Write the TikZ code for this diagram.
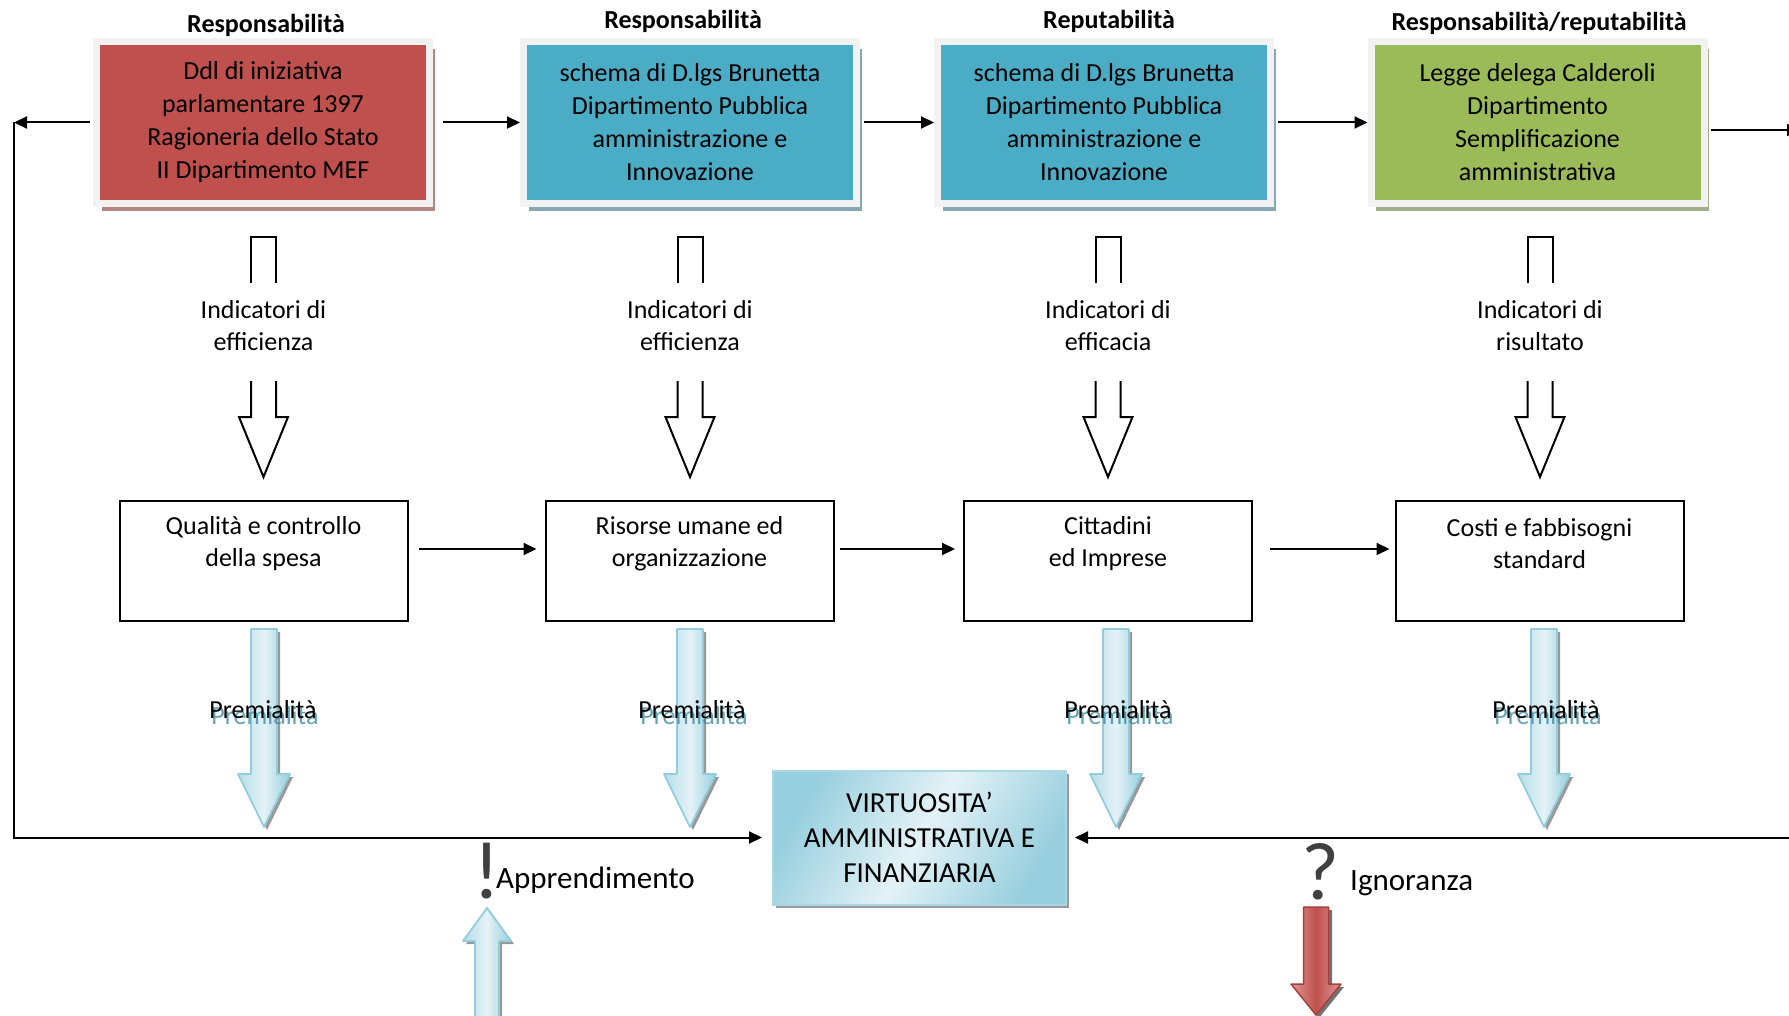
\documentclass[tikz,border=0pt]{standalone}
\usepackage{fontspec}
\setmainfont{Carlito}
\usetikzlibrary{arrows.meta,shadows}
\definecolor{cRed}{HTML}{C0504D}
\definecolor{cBlue}{HTML}{4BACC6}
\definecolor{cGreen}{HTML}{9BBB59}
\definecolor{cFrame}{HTML}{F2F2F2}
\definecolor{pLight}{HTML}{E4F2F7}
\definecolor{pDark}{HTML}{98CFDE}
\definecolor{pLine}{HTML}{93CDDD}
\definecolor{pText}{HTML}{31859C}
\definecolor{rLight}{HTML}{DC9A98}
\definecolor{rLine}{HTML}{A5403D}
\definecolor{qGray}{HTML}{404040}
\tikzset{
 topbox/.style={draw=cFrame, line width=7pt, minimum width=333pt, minimum height=162pt,
   align=center, inner sep=0pt, font=\fontsize{26}{33}\selectfont},
 titletxt/.style={font=\bfseries\fontsize{26}{30}\selectfont, inner sep=0pt},
 lowbox/.style={draw=black, line width=2pt, minimum width=288pt, minimum height=120pt, inner sep=0pt},
 txt/.style={align=center, inner sep=0pt, font=\fontsize{26}{32}\selectfont},
 bigtxt/.style={inner sep=0pt, font=\fontsize{31}{36}\selectfont},
 arr/.style={draw=black, line width=2pt, -{Triangle[length=13pt,width=12pt]}},
 blockarr/.style={draw=black, line width=2pt, line join=miter},
 pshade/.style={left color=pDark!60!pLight, right color=pDark, middle color=pLight, draw=pLine, line width=1.8pt, line join=round},
}
\begin{document}
\begin{tikzpicture}[x=1pt,y=-1pt]
\fill[white] (0,0) rectangle (1789,1016);
\useasboundingbox (0,0) rectangle (1789,1016);

% titles
\node[titletxt] (t1) at (266,25) {Responsabilità};
\node[titletxt] (t2) at (683,21) {Responsabilità};
\node[titletxt] (t3) at (1109,21) {Reputabilità};
\node[titletxt] (t4) at (1539,23) {Responsabilità/reputabilità};

% top boxes
\node[topbox, fill=cRed, drop shadow={shadow xshift=5pt, shadow yshift=-7.5pt, fill=cRed!50!gray!80, opacity=1}] (b1) at (263,122.5)
  {Ddl di iniziativa\\parlamentare 1397\\Ragioneria dello Stato\\II Dipartimento MEF};
\node[topbox, fill=cBlue, drop shadow={shadow xshift=5pt, shadow yshift=-7.5pt, fill=cBlue!45!gray!80, opacity=1}] (b2) at (690,122.5)
  {schema di D.lgs Brunetta\\Dipartimento Pubblica\\amministrazione e\\Innovazione};
\node[topbox, fill=cBlue, drop shadow={shadow xshift=5pt, shadow yshift=-7.5pt, fill=cBlue!45!gray!80, opacity=1}] (b3) at (1104,122.5)
  {schema di D.lgs Brunetta\\Dipartimento Pubblica\\amministrazione e\\Innovazione};
\node[topbox, fill=cGreen, drop shadow={shadow xshift=5pt, shadow yshift=-7.5pt, fill=cGreen!45!gray!80, opacity=1}] (b4) at (1537.5,122.5)
  {Legge delega Calderoli\\Dipartimento\\Semplificazione\\amministrativa};

% top row connectors
\coordinate (lft) at (14,122.5);
\coordinate (rt) at (1800,130);
\draw[arr, shorten <=3.5pt] (b1.west) -- (lft);
\draw[arr, shorten <=9.5pt] (b1.east) -- (b2.west);
\draw[arr, shorten <=3.5pt] (b2.east) -- (b3.west);
\draw[arr, shorten <=3.5pt] (b3.east) -- (b4.west);
\draw[arr, shorten <=3.5pt] (b4.east |- rt) -- (rt);

% indicator block arrows and labels
\foreach \cx/\lb [count=\i] in {263.5/efficienza, 690/efficienza, 1108/efficacia, 1540/risultato}{
  \draw[blockarr] (\cx-12.5,283) -- (\cx-12.5,237) -- (\cx+12.5,237) -- (\cx+12.5,283);
  \node[txt] (ind\i) at (\cx,326) {Indicatori di\\\lb};
  \draw[blockarr] (\cx-12.5,381) -- (\cx-12.5,417) -- (\cx-24.5,417) -- (\cx,477) -- (\cx+24.5,417) -- (\cx+12.5,417) -- (\cx+12.5,381);
}

% lower boxes
\node[lowbox] (l1) at (263.5,561) {};
\node[lowbox] (l2) at (689.5,561) {};
\node[lowbox] (l3) at (1108,561) {};
\node[lowbox] (l4) at (1539.5,561) {};
\node[txt] (l1t) at (263.5,544) {Qualità e controllo\\della spesa};
\node[txt] (l2t) at (689.5,544) {Risorse umane ed\\organizzazione};
\node[txt] (l3t) at (1108,544) {Cittadini\\ed Imprese};
\node[txt] (l4t) at (1539.5,544) {Costi e fabbisogni\\standard};
\draw[arr, shorten <=10pt, shorten >=8pt] ([yshift=12pt]l1.east) -- ([yshift=12pt]l2.west);
\draw[arr, shorten <=5pt, shorten >=8pt] ([yshift=12pt]l2.east) -- ([yshift=12pt]l3.west);
\draw[arr, shorten <=17pt, shorten >=5pt] ([yshift=12pt]l3.east) -- ([yshift=12pt]l4.west);

% premialita arrows
\foreach \ax/\tx [count=\i] in {264/263, 690/692, 1116/1118, 1544/1546}{
  \begin{scope}[shift={(\ax,0)}]
    \fill[black!40] (-10,632) -- (16,632) -- (16,777) -- (29,777) -- (3,830) -- (-23,777) -- (-10,777) -- cycle;
    \shadedraw[pshade] (-13,629) -- (13,629) -- (13,774) -- (26,774) -- (0,827) -- (-26,774) -- (-13,774) -- cycle;
  \end{scope}
  \node[txt, text=pText, opacity=0.75] (pt\i) at (\tx+2,716) {Premialità};
  \node[txt] (pb\i) at (\tx,710) {Premialità};
}

% central box
\node[draw=pLine!80!white, line width=2pt, minimum width=293pt, minimum height=134pt, inner sep=0pt,
  left color=pDark, right color=pDark, middle color=pLight, shading angle=60,
  drop shadow={shadow xshift=3pt, shadow yshift=-3pt, fill=black!40, opacity=1},
  align=center, font=\fontsize{29}{35}\selectfont] (v) at (919.5,837.5)
  {VIRTUOSITA’\\AMMINISTRATIVA E\\FINANZIARIA};

% feedback lines
\coordinate (rb) at (1800,837.5);
\draw[arr, shorten >=10pt] (lft) |- (v.west);
\draw[arr, shorten >=8pt] (rb) -- (v.east);

% apprendimento
\node[inner sep=0pt, text=qGray, font=\fontsize{82}{82}\selectfont] (excl) at (487,871) {!};
\node[bigtxt, anchor=west] (appr) at (496,880) {Apprendimento};
\fill[black!40] (490,911) -- (514,944) -- (502,944) -- (502,1033) -- (478,1033) -- (478,944) -- (466,944) -- cycle;
\shadedraw[pshade] (487,908) -- (511,941) -- (499,941) -- (499,1030) -- (475,1030) -- (475,941) -- (463,941) -- cycle;

% ignoranza
\node[inner sep=0pt, text=qGray, font=\fontsize{82}{82}\selectfont] (quest) at (1320,872) {?};
\node[bigtxt, anchor=west] (ign) at (1350,883) {Ignoranza};
\fill[black!55] (1307,910) -- (1332,910) -- (1332,987) -- (1344,987) -- (1319,1018) -- (1294,987) -- (1307,987) -- cycle;
\shadedraw[left color=rLight, right color=rLight, middle color=cRed, draw=rLine, line width=1.5pt, line join=round]
  (1303.5,907) -- (1328.5,907) -- (1328.5,984) -- (1341,984) -- (1316,1015) -- (1291,984) -- (1303.5,984) -- cycle;
\end{tikzpicture}
\end{document}
